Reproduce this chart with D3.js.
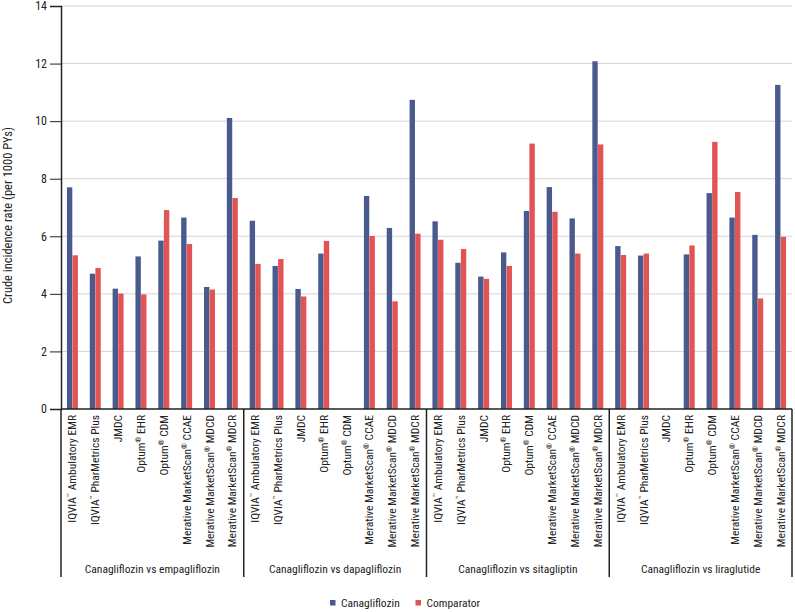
<!DOCTYPE html>
<html>
<head>
<meta charset="utf-8">
<script src="https://cdn.jsdelivr.net/npm/d3@7"></script>
<style>
  body { margin: 0; background: white; }
  text { font-family: 'Liberation Sans Narrow', 'Roboto Condensed', 'DejaVu Sans Condensed', 'Liberation Sans', sans-serif; fill: #222; }
</style>
</head>
<body>
<svg id="chart" width="795" height="612"></svg>
<script>
var comparisons = ['Canagliflozin vs empagliflozin', 'Canagliflozin vs dapagliflozin',
  'Canagliflozin vs sitagliptin', 'Canagliflozin vs liraglutide'];

var databases = ['IQVIA™ Ambulatory EMR', 'IQVIA™ PharMetrics Plus', 'JMDC', 'Optum® EHR',
  'Optum® CDM', 'Merative MarketScan® CCAE', 'Merative MarketScan® MDCD', 'Merative MarketScan® MDCR'];

var series = ['Canagliflozin', 'Comparator'];

// one row per comparison, one value per database (null = not reported)
var canaValues = [
  [7.70, 4.70, 4.18, 5.30, 5.85, 6.65, 4.24, 10.11],
  [6.54, 4.97, 4.17, 5.40, null, 7.40, 6.29, 10.74],
  [6.52, 5.08, 4.60, 5.44, 6.88, 7.71, 6.62, 12.08],
  [5.66, 5.33, null, 5.37, 7.50, 6.65, 6.05, 11.26]
];

var compValues = [
  [5.34, 4.90, 4.01, 3.98, 6.91, 5.73, 4.15, 7.33],
  [5.04, 5.21, 3.91, 5.84, null, 6.01, 3.74, 6.09],
  [5.88, 5.56, 4.52, 4.97, 9.22, 6.85, 5.40, 9.19],
  [5.35, 5.40, null, 5.68, 9.28, 7.54, 3.84, 5.98]
];

var yTicks = [0, 2, 4, 6, 8, 10, 12, 14];

var colors = { 'Canagliflozin': '#4a5a8c', 'Comparator': '#e25353' };

var svg = d3.select('svg#chart');

var plotLeft = 61, plotRight = 792, plotTop = 6, plotBottom = 409;

// flatten into 32 slots
var rows = [];
comparisons.forEach(function (c, gi) {
  databases.forEach(function (db, di) {
    rows.push({
      key: gi + '-' + di,
      group: gi,
      db: db,
      values: [canaValues[gi][di], compValues[gi][di]]
    });
  });
});

var x = d3.scaleBand()
  .domain(rows.map(function (d) { return d.key; }))
  .range([plotLeft, plotRight])
  .paddingInner(0.5)
  .paddingOuter(0.25);

var xInner = d3.scaleBand()
  .domain(series)
  .range([0, x.bandwidth()])
  .padding(0.04);

var y = d3.scaleLinear()
  .domain([0, 14])
  .range([plotBottom, plotTop]);

// gridlines
svg.append('g')
  .selectAll('line')
  .data(yTicks.slice(1))
  .enter()
  .append('line')
    .attr('x1', plotLeft)
    .attr('x2', plotRight)
    .attr('y1', function (d) { return y(d); })
    .attr('y2', function (d) { return y(d); })
    .style('stroke', '#d4d4d4')
    .style('stroke-width', 1);

// y axis
var yAxis = svg.append('g')
  .attr('transform', 'translate(' + plotLeft + ',0)')
  .call(d3.axisLeft(y).tickValues(yTicks).tickSize(11).tickPadding(3));

yAxis.select('.domain').style('stroke', '#222').style('stroke-width', 1.5);
yAxis.selectAll('.tick line').style('stroke', '#222');
yAxis.selectAll('text')
  .attr('font-family', null)
  .attr('font-size', null)
  .style('font-size', '12px');

svg.append('text')
  .attr('transform', 'translate(12,' + ((plotTop + plotBottom) / 2 + 8) + ') rotate(-90)')
  .attr('text-anchor', 'middle')
  .style('font-size', '12.5px')
  .text('Crude incidence rate (per 1000 PYs)');

// bars
var slot = svg.append('g')
  .selectAll('g')
  .data(rows)
  .enter()
  .append('g')
    .attr('transform', function (d) { return 'translate(' + x(d.key) + ',0)'; });

slot.selectAll('rect')
  .data(function (d) {
    return series.map(function (s, i) { return { s: s, v: d.values[i] }; })
      .filter(function (e) { return e.v != null; });
  })
  .enter()
  .append('rect')
    .attr('x', function (d) { return xInner(d.s); })
    .attr('width', xInner.bandwidth())
    .attr('y', function (d) { return y(d.v); })
    .attr('height', function (d) { return y(0) - y(d.v); })
    .style('fill', function (d) { return colors[d.s]; });

// x axis baseline
svg.append('line')
  .attr('x1', plotLeft)
  .attr('x2', plotRight)
  .attr('y1', plotBottom)
  .attr('y2', plotBottom)
  .style('stroke', '#222')
  .style('stroke-width', 1.5);

// group dividers
var dividers = comparisons.map(function (c, gi) { return x(gi + '-0') - x.step() * 0.25; });
dividers.push(plotRight);

svg.append('g')
  .selectAll('line')
  .data(dividers)
  .enter()
  .append('line')
    .attr('x1', function (d) { return d; })
    .attr('x2', function (d) { return d; })
    .attr('y1', plotBottom)
    .attr('y2', 577)
    .style('stroke', '#222')
    .style('stroke-width', 1.5);

// database labels (rotated), ™ and ® as superscripts
var labels = svg.append('g')
  .selectAll('text')
  .data(rows)
  .enter()
  .append('text')
    .attr('transform', function (d) {
      return 'translate(' + (x(d.key) + x.bandwidth() / 2) + ',415) rotate(-90)';
    })
    .attr('text-anchor', 'end')
    .attr('dy', '0.35em')
    .style('font-size', '11.5px');

labels.each(function (d) {
  var t = d3.select(this);
  d.db.split(/([™®])/).forEach(function (part) {
    if (part === '') return;
    if (part === '™' || part === '®') {
      t.append('tspan')
        .attr('baseline-shift', 'super')
        .style('font-size', '7.5px')
        .text(part);
    } else {
      t.append('tspan').text(part);
    }
  });
});

// comparison labels
svg.append('g')
  .selectAll('text')
  .data(comparisons)
  .enter()
  .append('text')
    .attr('x', function (d, i) { return (dividers[i] + dividers[i + 1]) / 2; })
    .attr('y', 573)
    .attr('text-anchor', 'middle')
    .style('font-size', '11.5px')
    .text(function (d) { return d; });

// legend
var legendX = [330, 415.5];

var legend = svg.append('g')
  .selectAll('g')
  .data(series)
  .enter()
  .append('g')
    .attr('transform', function (d, i) { return 'translate(' + legendX[i] + ',600)'; });

legend.append('rect')
  .attr('width', 5.5)
  .attr('height', 5.5)
  .style('fill', function (d) { return colors[d]; });

legend.append('text')
  .attr('x', 11)
  .attr('y', 3)
  .attr('dy', '0.35em')
  .style('font-size', '11.5px')
  .text(function (d) { return d; });
</script>
</body>
</html>
